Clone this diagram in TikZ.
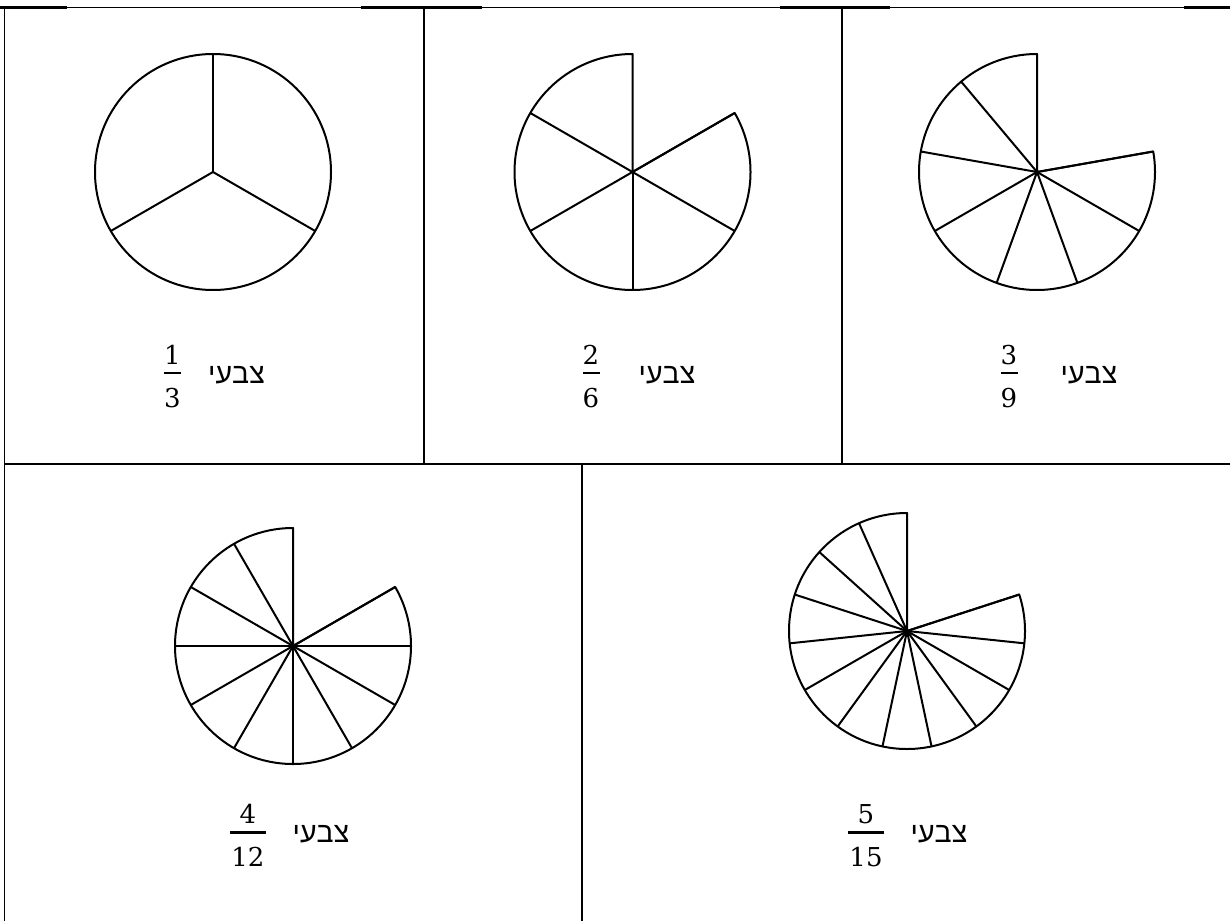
\documentclass[tikz,border=0pt]{standalone}
\usepackage{fontspec}
\newfontfamily\hebfont{Liberation Sans}
\newfontfamily\digitfont{DejaVu Serif}
\tikzset{
  frame/.style={line width=1.3pt},
  framethick/.style={line width=2.2pt},
  pie/.style={line width=2pt, line join=round},
  hebtext/.style={font=\hebfont\fontsize{28.5}{32}\selectfont, inner sep=0},
  numtext/.style={font=\digitfont\fontsize{26}{30}\selectfont, inner sep=0},
  fracbar/.style={fill=black, inner sep=0, minimum height=2.2pt},
}
\newcommand{\mypie}[4]{% center coordinate name, n sectors, k drawn, radius
  \pgfmathsetmacro\pieang{360/#2}
  \pgfmathsetmacro\pieend{-90-#3*360/#2}
  \draw[pie] (#1) -- ++(0,-#4) arc[start angle=-90, end angle=\pieend, radius=#4] -- cycle;
  \foreach \i in {1,...,#3}{
    \draw[pie] (#1) -- ++({#4*cos(90+\i*\pieang)},{-#4*sin(90+\i*\pieang)});
  }
}
\begin{document}
\begin{tikzpicture}[x=1pt,y=-1pt]
\useasboundingbox (0,0) rectangle (1230,920);
% table frame
\coordinate (tl) at (4.5,7.5);
\coordinate (tr) at (1232,7.5);
\coordinate (ml) at (4.5,464);
\coordinate (mr) at (1232,464);
\coordinate (bl) at (4.5,922);
\coordinate (v1t) at (424,7.5);
\coordinate (v1b) at (424,464);
\coordinate (v2t) at (842,7.5);
\coordinate (v2b) at (842,464);
\coordinate (v3t) at (582,464);
\coordinate (v3b) at (582,922);
\draw[frame] (tl) -- (tr);
\draw[frame] (ml) -- (mr);
\draw[frame] (tl) -- (bl);
\draw[frame] (v1t) -- (v1b);
\draw[frame] (v2t) -- (v2b);
\draw[frame] (v3t) -- (v3b);
% thicker segments of the ruled lines
\draw[framethick] (0,7.5) -- (67,7.5);
\draw[framethick] (361,7.5) -- (482,7.5);
\draw[framethick] (780,7.5) -- (890,7.5);
\draw[framethick] (1184,7.5) -- (1230,7.5);
\draw[framethick] (4.5,464) -- (761,464);
\draw[framethick] (1055,464) -- (1230,464);

% circles
\coordinate (c1) at (213,172);
\coordinate (c2) at (632.5,172);
\coordinate (c3) at (1037,172);
\coordinate (c4) at (293,646);
\coordinate (c5) at (907,631);
\draw[pie] (c1) circle[radius=118];
\foreach \a in {90,210,330}{\draw[pie] (c1) -- ++({118*cos(\a)},{-118*sin(\a)});}
\mypie{c2}{6}{5}{118}
\mypie{c3}{9}{7}{118}
\mypie{c4}{12}{10}{118}
\mypie{c5}{15}{12}{118}

% labels
\node[numtext] (n1) at (172.5,355) {1};
\node[fracbar, minimum width=17pt] (b1) at (172.5,373) {};
\node[numtext] (d1) at (172.5,398) {3};
\node[hebtext] (h1) at (236.5,375) {צבעי};

\node[numtext] (n2) at (591,355) {2};
\node[fracbar, minimum width=17pt] (b2) at (591,373) {};
\node[numtext] (d2) at (591,398) {6};
\node[hebtext] (h2) at (667,375) {צבעי};

\node[numtext] (n3) at (1009,355) {3};
\node[fracbar, minimum width=17pt] (b3) at (1009,373) {};
\node[numtext] (d3) at (1009,398) {9};
\node[hebtext] (h3) at (1089,375) {צבעי};

\node[numtext] (n4) at (248,814) {4};
\node[fracbar, minimum width=36pt] (b4) at (248,832.5) {};
\node[numtext] (d4) at (248,857) {12};
\node[hebtext] (h4) at (321,834) {צבעי};

\node[numtext] (n5) at (866,814) {5};
\node[fracbar, minimum width=36pt] (b5) at (866,832.5) {};
\node[numtext] (d5) at (866,857) {15};
\node[hebtext] (h5) at (939,834) {צבעי};
\end{tikzpicture}
\end{document}
